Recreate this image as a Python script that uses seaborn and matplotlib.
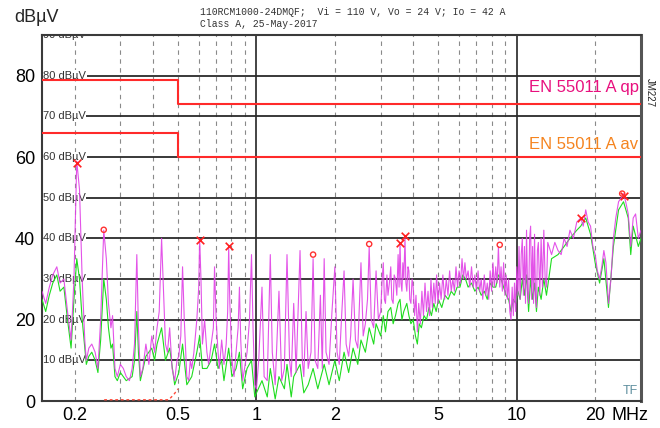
import numpy as np
import pandas as pd
import matplotlib
matplotlib.use('Agg')
import matplotlib.pyplot as plt
import seaborn as sns

# Peak scan (magenta), frequency in MHz / level in dBuV
pk_freq = [0.150, 0.155, 0.160, 0.165, 0.171, 0.176, 0.182, 0.188, 0.194, 0.199,
           0.204, 0.209, 0.214, 0.219, 0.222, 0.227, 0.233, 0.240, 0.246, 0.252,
           0.259, 0.265, 0.270, 0.276, 0.280, 0.286, 0.292, 0.300, 0.308, 0.316,
           0.325, 0.333, 0.340, 0.347, 0.352, 0.358, 0.366, 0.376, 0.386, 0.396,
           0.406, 0.415, 0.423, 0.432, 0.440, 0.447, 0.455, 0.464, 0.474, 0.485,
           0.495, 0.503, 0.512, 0.520, 0.528, 0.540, 0.549, 0.557, 0.564, 0.575,
           0.590, 0.600, 0.605, 0.612, 0.620, 0.632, 0.645, 0.655, 0.670, 0.683,
           0.690, 0.700, 0.712, 0.720, 0.735, 0.750, 0.765, 0.775, 0.782, 0.790,
           0.805, 0.820, 0.835, 0.850, 0.860, 0.870, 0.885, 0.900, 0.920, 0.940,
           0.957, 0.970, 0.985, 1.00, 1.02, 1.05, 1.07, 1.10, 1.13, 1.15,
           1.18, 1.22, 1.25, 1.28, 1.31, 1.34, 1.36, 1.39, 1.42, 1.47,
           1.50, 1.52, 1.55, 1.58, 1.62, 1.65, 1.68, 1.72, 1.76, 1.79,
           1.82, 1.85, 1.90, 1.95, 2.00, 2.04, 2.08, 2.12, 2.17, 2.21,
           2.26, 2.30, 2.35, 2.40, 2.45, 2.52, 2.57, 2.62, 2.67, 2.71,
           2.76, 2.82, 2.88, 2.94,
           3.00, 3.04, 3.07, 3.10, 3.13, 3.17, 3.20, 3.24, 3.28, 3.31,
           3.35, 3.38, 3.42, 3.46, 3.50, 3.53, 3.56, 3.59, 3.62, 3.65,
           3.68, 3.72, 3.75, 3.78, 3.82, 3.85, 3.88, 3.92, 3.96, 4.00,
           4.05, 4.10, 4.15, 4.20, 4.26, 4.32, 4.38, 4.44, 4.50, 4.56,
           4.62, 4.68, 4.74, 4.80, 4.86, 4.92, 4.98, 5.05, 5.12, 5.20,
           5.28, 5.36, 5.44, 5.52, 5.60, 5.68, 5.76, 5.84, 5.92, 6.00,
           6.08, 6.16, 6.24, 6.32, 6.40, 6.50, 6.60, 6.70, 6.80, 6.90,
           7.00, 7.10, 7.20, 7.30, 7.40, 7.50, 7.60, 7.70, 7.80, 7.90,
           8.00, 8.10, 8.20, 8.30, 8.40, 8.50, 8.60, 8.70, 8.80, 8.90,
           9.00, 9.10, 9.20, 9.30, 9.40, 9.50, 9.60, 9.70, 9.80, 9.90,
           10.0, 10.1, 10.2, 10.3, 10.4, 10.5, 10.6, 10.7, 10.8, 10.9,
           11.0, 11.1, 11.2, 11.3, 11.4, 11.5, 11.6, 11.7, 11.8, 11.9,
           12.0, 12.1, 12.25, 12.4, 12.55, 12.7, 12.85, 13.0, 13.15, 13.3,
           13.6, 14.0, 14.4, 14.8, 15.2, 15.6, 16.0, 16.5, 17.0, 17.6,
           18.0, 18.4, 18.8, 19.2, 19.6, 20.0, 20.4, 20.8, 21.2, 21.6,
           22.0, 22.5, 23.0, 23.5, 24.0, 24.6, 25.2, 25.7, 26.2, 26.8,
           27.4, 28.0, 28.6, 29.3, 30.0]
pk_level = [27, 24, 28, 31, 33, 29, 30, 22, 15, 30,
            59, 52, 30, 15, 10, 13, 14, 12, 8, 20,
            42, 35, 24, 18, 21, 8, 6, 9, 8, 6,
            5, 8, 14, 36, 18, 6, 8, 14, 9, 16,
            12, 18, 22, 40, 26, 14, 12, 18, 8, 5,
            10, 11, 16, 33, 20, 6, 5, 10, 8, 12,
            20, 28, 40, 30, 14, 20, 12, 9, 14, 18,
            33, 20, 12, 8, 15, 9, 14, 22, 38, 24,
            10, 6, 12, 18, 28, 15, 5, 8, 12, 20,
            36, 18, 4, 3, 10, 28, 6, 5, 36, 12,
            4, 27, 5, 8, 36, 10, 6, 24, 7, 37,
            10, 6, 22, 8, 12, 35, 10, 8, 26, 8,
            35, 12, 9, 22, 33, 12, 9, 20, 32, 14,
            11, 16, 30, 15, 13, 34, 16, 19, 25, 38,
            20, 18, 32, 20,
            22, 30, 34, 25, 24, 31, 26, 29, 33, 25,
            24, 31, 30, 26, 36, 28, 39, 29, 27, 34,
            30, 40, 29, 27, 33, 32, 25, 24, 30, 28,
            21, 26, 17, 24, 19, 27, 21, 29, 22, 27,
            21, 30, 23, 29, 24, 31, 24, 29, 25, 31,
            25, 30, 26, 32, 27, 30, 27, 33, 28, 32,
            29, 35, 30, 34, 30, 32, 28, 33, 28, 31,
            27, 32, 27, 30, 25, 31, 26, 29, 25, 32,
            27, 34, 28, 33, 29, 38, 28, 33, 27, 34,
            26, 31, 25, 30, 22, 20, 28, 21, 29, 22,
            33, 26, 38, 25, 36, 40, 26, 38, 24, 42,
            27, 24, 40, 43, 25, 38, 24, 41, 26, 23,
            37, 39, 26, 40, 28, 42, 30, 28, 39, 38,
            36, 39, 37, 36, 40, 38, 42, 40, 44, 45,
            43, 47, 44, 43, 38, 36, 32, 30, 33, 37,
            34, 24, 30, 40, 45, 49, 50, 51, 49, 46,
            38, 45, 46, 40, 42]

# Average scan (green)
av_freq = [0.150, 0.155, 0.160, 0.165, 0.171, 0.176, 0.182, 0.188, 0.194, 0.199,
           0.204, 0.209, 0.214, 0.219, 0.222, 0.227, 0.233, 0.240, 0.246, 0.252,
           0.259, 0.265, 0.270, 0.276, 0.280, 0.286, 0.292, 0.300, 0.316, 0.333,
           0.340, 0.347, 0.352, 0.358, 0.376, 0.396, 0.406, 0.415, 0.432, 0.447,
           0.464, 0.485, 0.503, 0.520, 0.540, 0.564, 0.590, 0.605, 0.620, 0.645,
           0.670, 0.690, 0.712, 0.735, 0.750, 0.782, 0.805, 0.835, 0.860, 0.885,
           0.920, 0.957, 0.985, 1.00, 1.05, 1.10, 1.13, 1.18, 1.22, 1.28,
           1.31, 1.36, 1.39, 1.47, 1.52, 1.58, 1.65, 1.72, 1.82, 1.90,
           2.00, 2.08, 2.17, 2.26, 2.35, 2.45, 2.52, 2.62, 2.71, 2.82,
           2.88, 3.00, 3.07, 3.13, 3.20, 3.28, 3.35, 3.42, 3.50, 3.56,
           3.62, 3.68, 3.78, 3.85, 3.92, 4.00, 4.08, 4.15, 4.22, 4.30,
           4.40, 4.50, 4.60, 4.70, 4.80, 4.90, 5.00, 5.15, 5.30, 5.45,
           5.60, 5.75, 5.90, 6.05, 6.20, 6.35, 6.50, 6.70, 6.90, 7.10,
           7.30, 7.50, 7.70, 7.90, 8.10, 8.30, 8.50, 8.70, 8.90, 9.10,
           9.30, 9.50, 9.70, 9.90, 10.1, 10.3, 10.5, 10.7, 10.9, 11.1,
           11.3, 11.5, 11.7, 11.9, 12.1, 12.4, 12.7, 13.0, 13.6, 14.4,
           15.2, 16.0, 17.0, 17.6, 18.4, 19.2, 20.0, 20.8, 21.6, 22.5,
           23.5, 24.6, 25.7, 26.8, 27.4, 28.0, 29.3, 30.0]
av_level = [25, 22, 26, 29, 31, 27, 28, 20, 13, 25,
            35, 30, 20, 13, 9, 11, 12, 10, 7, 15,
            30, 25, 18, 13, 14, 6, 5, 7, 5, 6,
            10, 22, 12, 5, 11, 13, 10, 14, 18, 10,
            13, 4, 7, 14, 4, 6, 12, 16, 8, 8,
            10, 14, 8, 10, 5, 13, 6, 8, 12, 3,
            8, 10, 1, 2, 5, 1, 8, 0.5, 6, 3,
            9, 1, 6, 9, 2, 4, 8, 3, 9, 4,
            10, 5, 12, 7, 13, 9, 15, 12, 18, 14,
            19, 16, 21, 17, 22, 23, 19, 21, 24, 25,
            20, 22, 24, 21, 19, 20, 16, 14, 19, 18,
            21, 20, 23, 21, 24, 22, 25, 23, 26, 25,
            27, 26, 28, 28, 31, 30, 28, 29, 27, 28,
            26, 27, 25, 29, 28, 28, 31, 30, 28, 26,
            25, 22, 25, 24, 27, 25, 30, 26, 31, 22,
            30, 25, 29, 22, 28, 25, 30, 26, 35, 36,
            38, 40, 42, 43, 45, 41, 34, 29, 35, 23,
            38, 47, 49, 45, 36, 43, 38, 40]

# EN 55011 class A limits
lim_freq = [0.15, 0.5, 0.5, 30]
qp_limit = [79, 79, 73, 73]
av_limit = [66, 66, 60, 60]

# small red trace near the floor
floor_freq = [0.26, 0.46, 0.48, 0.50]
floor_level = [0.3, 0.3, 1.5, 3]

# final-measurement markers
xmark_freq = [0.204, 0.605, 0.782, 3.56, 3.72, 17.6, 25.7]
xmark_level = [58.6, 39.7, 38.0, 38.9, 40.6, 45.0, 50.3]
omark_freq = [0.259, 1.65, 2.71, 8.6, 25.4]
omark_level = [42.1, 36.0, 38.6, 38.4, 51.0]

x_ticks = [0.2, 0.5, 1, 2, 5, 10, 20]
x_labels = ['0.2', '0.5', '1', '2', '5', '10', '20']
y_ticks = [0, 20, 40, 60, 80]
grid_levels = [10, 20, 30, 40, 50, 60, 70, 80, 90]
minor_freqs = [0.2, 0.3, 0.4, 0.5, 0.6, 0.7, 0.8, 0.9,
               2, 3, 4, 5, 6, 7, 8, 9, 20]
major_freqs = [1, 10]

sns.set_style('white')
plt.rcParams['font.family'] = ['Liberation Sans', 'DejaVu Sans']

fig = plt.figure(figsize=(6.6, 4.28), dpi=100)
ax = fig.add_axes([42 / 660, 1 - 401 / 428, 599 / 660, 366 / 428])
ax.set_xscale('log')

for f in minor_freqs:
    ax.axvline(f, color='#8a8a8a', lw=0.8, ls=(0, (4, 4)), zorder=1)
for f in major_freqs:
    ax.axvline(f, color='#111111', lw=1.1, zorder=1)
for lv in grid_levels:
    ax.axhline(lv, color='#2a2a2a', lw=1.3, zorder=1)
    ax.text(0.002, lv, f'{lv} dBµV', transform=ax.get_yaxis_transform(),
            ha='left', va='center', fontsize=8, color='#333333',
            family=['Liberation Sans Narrow', 'Liberation Sans'],
            bbox=dict(facecolor='white', edgecolor='none', pad=0.3), zorder=2,
            clip_on=True)

pk = pd.DataFrame({'MHz': pk_freq, 'dBuV': pk_level})
av = pd.DataFrame({'MHz': av_freq, 'dBuV': av_level})
sns.lineplot(data=av, x='MHz', y='dBuV', ax=ax, color='#1fdc1f', lw=0.8,
             estimator=None, sort=False, zorder=3)
sns.lineplot(data=pk, x='MHz', y='dBuV', ax=ax, color='#e040e6', lw=0.8,
             estimator=None, sort=False, zorder=4, alpha=0.9)

sns.lineplot(x=lim_freq, y=qp_limit, ax=ax, color='#ff2a2a', lw=1.5,
             estimator=None, sort=False, zorder=5)
sns.lineplot(x=lim_freq, y=av_limit, ax=ax, color='#ff2a2a', lw=1.5,
             estimator=None, sort=False, zorder=5)
sns.lineplot(x=floor_freq, y=floor_level, ax=ax, color='#ff4a3a', lw=1.0,
             ls=(0, (2, 2)), estimator=None, sort=False, zorder=5)

sns.scatterplot(x=xmark_freq, y=xmark_level, ax=ax, marker='x', color='#ff2020',
                s=30, linewidth=1.2, zorder=6)
sns.scatterplot(x=omark_freq, y=omark_level, ax=ax, marker='o', facecolor='none',
                edgecolor='#ff3030', s=14, linewidth=1.0, zorder=6)

ax.set_xlim(0.15, 30)
ax.set_ylim(0, 90)
ax.set_xticks(x_ticks + [27.3])
ax.set_xticklabels(x_labels + ['MHz'])
ax.minorticks_off()
ax.set_yticks(y_ticks)
ax.tick_params(axis='both', length=0, labelsize=13, colors='black')
ax.tick_params(axis='y', pad=5)
ax.tick_params(axis='x', pad=4)
ax.set_xlabel('')
ax.set_ylabel('')
for s in ax.spines.values():
    s.set_color('#3a3a3a')
    s.set_linewidth(1.5)
ax.spines['right'].set_linewidth(2.2)
ax.spines['right'].set_color('#555555')

ax.text(0.996, 77, 'EN 55011 A qp', transform=ax.get_yaxis_transform(),
        ha='right', va='center', fontsize=12, color='#e8107e', zorder=7)
ax.text(0.996, 63, 'EN 55011 A av', transform=ax.get_yaxis_transform(),
        ha='right', va='center', fontsize=12, color='#f5841f', zorder=7)
ax.text(0.995, 0.01, 'TF', transform=ax.transAxes, ha='right', va='bottom',
        fontsize=9, color='#5f8f9f', zorder=7)

fig.text(14 / 660, 1 - 17 / 428, 'dBµV', ha='left', va='center', fontsize=13)
fig.text(650 / 660, 1 - 92 / 428, 'JM227', rotation=-90, ha='center', va='center',
         fontsize=7, color='#222222')
fig.text(200 / 660, 1 - 12 / 428,
         '110RCM1000-24DMQF;  Vi = 110 V, Vo = 24 V; Io = 42 A',
         ha='left', va='center', fontsize=7, color='#333333',
         family=['Liberation Mono', 'DejaVu Sans Mono'])
fig.text(200 / 660, 1 - 24 / 428, 'Class A, 25-May-2017',
         ha='left', va='center', fontsize=7, color='#333333',
         family=['Liberation Mono', 'DejaVu Sans Mono'])

fig.savefig('out.png', dpi=100)
